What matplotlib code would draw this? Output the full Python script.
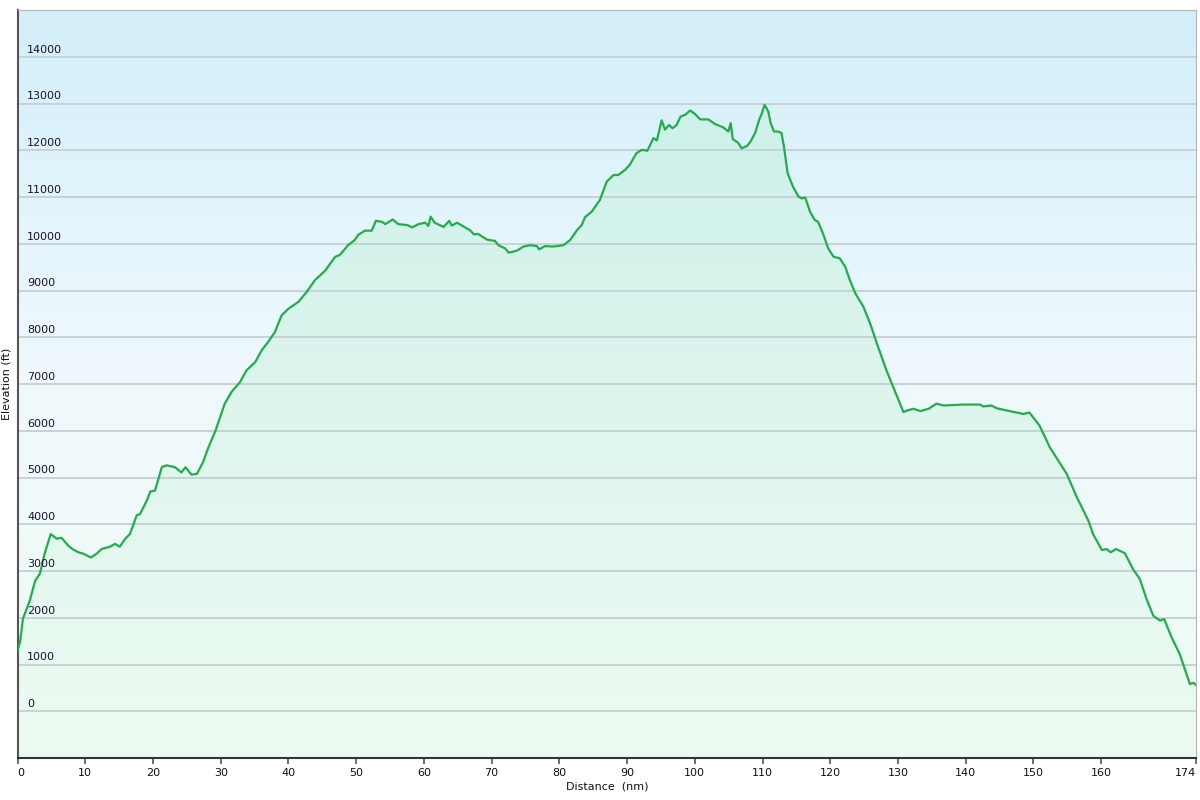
import numpy as np
import matplotlib
matplotlib.use("Agg")
import matplotlib.pyplot as plt
from matplotlib.colors import LinearSegmentedColormap

# distance (nm) and elevation (ft)
distance = [
    0.0, 0.4, 0.8, 1.8, 2.6, 3.3, 4.0, 4.9, 5.8, 6.5, 7.5, 8.2, 9.0, 9.7,
    10.85, 11.7, 12.4, 13.65, 14.4, 15.1, 15.9, 16.6, 17.6, 18.1, 19.1, 19.6,
    20.3, 21.3, 22.0, 23.25, 24.2, 24.8, 25.7, 26.5, 27.4, 28.2, 29.2, 30.6,
    31.6, 32.85, 33.8, 35.1, 36.05, 37.0, 38.0, 39.0, 40.0, 41.5, 42.7, 43.9,
    45.4, 46.9, 47.6, 48.8, 49.8, 50.3, 51.3, 52.3, 52.9, 53.8, 54.3, 55.4,
    56.2, 57.5, 58.3, 59.2, 60.2, 60.65, 61.0, 61.6, 62.9, 63.75, 64.1, 64.9,
    66.1, 66.8, 67.4, 68.0, 69.3, 70.5, 71.0, 72.0, 72.5, 73.7, 74.7, 75.7,
    76.7, 77.0, 77.9, 79.1, 80.6, 81.6, 82.6, 83.3, 83.8, 84.8, 86.0, 87.0,
    88.0, 88.7, 89.7, 90.4, 91.4, 92.2, 93.0, 93.9, 94.4, 95.1, 95.6, 96.2,
    96.7, 97.3, 97.9, 98.6, 99.3, 100.0, 100.8, 102.0, 103.0, 104.2, 104.95,
    105.3, 105.6, 106.4, 106.9, 107.7, 108.25, 108.9, 109.5, 109.9, 110.3,
    110.85, 111.2, 111.7, 112.3, 112.8, 113.2, 113.7, 114.5, 115.3, 115.8,
    116.3, 117.0, 117.7, 118.2, 119.0, 119.7, 120.5, 121.4, 122.2, 122.9,
    123.7, 124.9, 125.9, 126.9, 128.3, 129.6, 130.8, 131.5, 132.3, 133.3,
    134.5, 135.7, 136.7, 139.6, 142.1, 142.6, 143.8, 144.6, 146.5, 148.5,
    149.4, 150.9, 152.4, 154.9, 156.4, 158.1, 158.8, 160.1, 160.8, 161.4,
    162.2, 163.5, 164.7, 165.7, 166.7, 167.7, 168.7, 169.3, 170.4, 171.6,
    173.1, 173.6, 174.0,
]
elevation = [
    1290, 1500, 1980, 2360, 2790, 2940, 3370, 3790, 3690, 3710, 3540, 3460,
    3400, 3370, 3290, 3370, 3470, 3520, 3580, 3520, 3690, 3790, 4190, 4220,
    4510, 4700, 4720, 5220, 5260, 5220, 5110, 5220, 5060, 5080, 5330, 5650,
    5990, 6580, 6830, 7040, 7290, 7470, 7720, 7900, 8110, 8470, 8610, 8760,
    8970, 9220, 9420, 9720, 9760, 9970, 10080, 10190, 10280, 10280, 10490,
    10470, 10420, 10520, 10420, 10400, 10350, 10420, 10450, 10380, 10580,
    10450, 10360, 10490, 10390, 10450, 10350, 10290, 10200, 10210, 10090,
    10060, 9970, 9900, 9810, 9850, 9940, 9970, 9950, 9880, 9950, 9940, 9970,
    10080, 10290, 10400, 10570, 10690, 10940, 11330, 11470, 11470, 11580,
    11690, 11940, 12010, 11990, 12260, 12210, 12640, 12440, 12540, 12470,
    12540, 12720, 12760, 12850, 12780, 12660, 12660, 12560, 12490, 12400,
    12580, 12240, 12160, 12040, 12090, 12190, 12370, 12650, 12790, 12970,
    12830, 12580, 12400, 12400, 12370, 12040, 11510, 11220, 11010, 10970,
    10990, 10690, 10510, 10470, 10190, 9900, 9720, 9690, 9510, 9220, 8940,
    8650, 8290, 7860, 7290, 6830, 6400, 6440, 6470, 6420, 6470, 6580, 6540,
    6560, 6560, 6520, 6540, 6480, 6420, 6360, 6390, 6110, 5650, 5080, 4580,
    4080, 3790, 3450, 3470, 3400, 3470, 3380, 3040, 2830, 2400, 2040, 1940,
    1970, 1580, 1220, 580, 610, 560,
]
x_ticks = [0, 10, 20, 30, 40, 50, 60, 70, 80, 90, 100, 110, 120, 130, 140, 150, 160, 174]
y_ticks = list(range(0, 15000, 1000))

fig = plt.figure(figsize=(12, 8), dpi=100)
ax = fig.add_axes([17.5 / 1200, 42 / 800, (1196 - 17.5) / 1200, 748 / 800])
ax.set_xlim(0, 174)
ax.set_ylim(-1000, 15000)

# background gradient: sky blue at top, pale mint at bottom
bg = LinearSegmentedColormap.from_list("bg", ["#eefcf3", "#f0f9fd", "#d3effa"])
grad = np.linspace(0, 1, 256).reshape(-1, 1)
ax.imshow(grad, extent=[0, 174, -1000, 15000], origin="lower", aspect="auto",
          cmap=bg, zorder=0)

# area under the profile, gradient clipped to the fill polygon
poly = ax.fill_between(distance, elevation, -1000, color="none", lw=0)
fillmap = LinearSegmentedColormap.from_list("fill", ["#ecfbf1", "#dff6ee", "#cdf1ea"])
img = ax.imshow(grad, extent=[0, 174, -1000, 13000], origin="lower", aspect="auto",
                cmap=fillmap, zorder=1)
img.set_clip_path(poly.get_paths()[0], transform=ax.transData)

for t in y_ticks:
    ax.axhline(t, color="#c3d0d4", lw=1.3, zorder=2)
    ax.annotate(str(t), xy=(0, t), xytext=(7, 1.5), textcoords="offset points",
                ha="left", va="bottom", fontsize=8, color="#1a1030", zorder=4)

ax.plot(distance, elevation, color="#22ad4c", lw=1.6, zorder=3)

ax.set_yticks([])
ax.set_xticks(x_ticks)
ax.set_xticklabels([str(t) for t in x_ticks], fontsize=8, color="#111111")
ax.tick_params(axis="x", length=4, width=1.2, color="#555555", pad=3)
labels = ax.get_xticklabels()
labels[0].set_ha("left")
labels[-1].set_ha("right")

ax.set_xlabel("Distance  (nm)", fontsize=8, color="#111111", labelpad=3)
ax.set_ylabel("Elevation (ft)", fontsize=8, color="#111111", labelpad=4)

ax.spines["left"].set_color("#555555")
ax.spines["left"].set_linewidth(1.5)
ax.spines["bottom"].set_color("#333333")
ax.spines["bottom"].set_linewidth(1.5)
ax.spines["top"].set_color("#b5b5b5")
ax.spines["right"].set_color("#b5b5b5")

fig.savefig("out.png", dpi=100)
